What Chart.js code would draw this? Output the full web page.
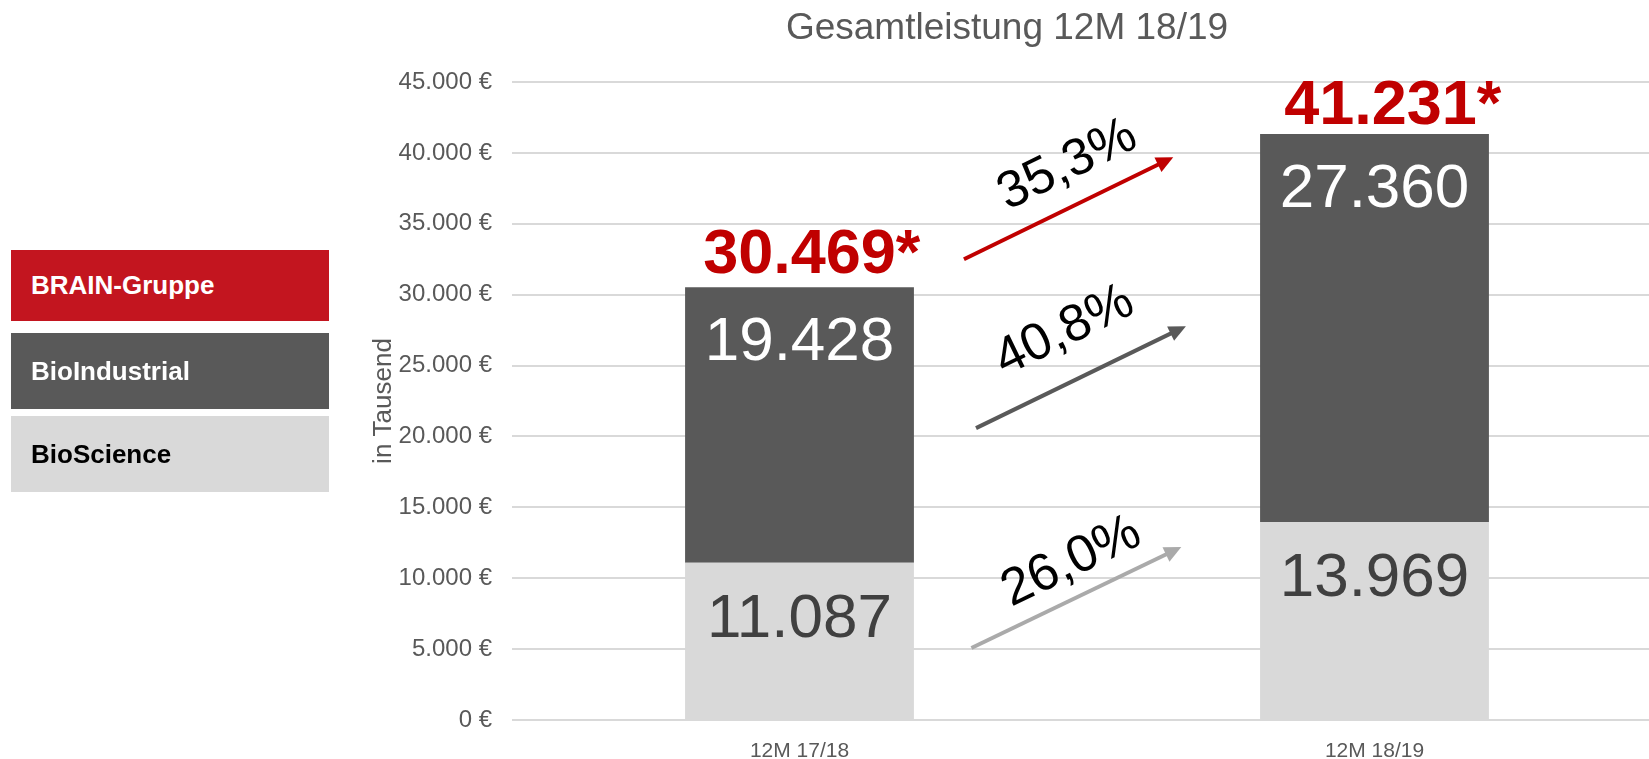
<!DOCTYPE html>
<html><head><meta charset="utf-8">
<script src="https://cdn.jsdelivr.net/npm/chart.js@4.4.1/dist/chart.umd.min.js"></script>
<style>
html,body{margin:0;padding:0;background:#fff;overflow:hidden;width:1649px;height:759px;}
#wrap{position:absolute;left:0;top:0;width:1662px;height:759px;}
.lg{position:absolute;left:11px;width:318px;font:bold 26px Arial,"Liberation Sans",sans-serif;display:flex;align-items:center;padding-left:20px;box-sizing:border-box;}
</style></head><body>
<div id="wrap"><canvas id="c" width="1662" height="759"></canvas></div>
<div id="legend"></div>
<script>
// ---- data ----
const categories = ['12M 17/18', '12M 18/19'];
const bioScience = [11087, 13969];
const bioIndustrial = [19428, 27360];
const groupTotals = [30469, 41231];
const growthLabels = ['35,3%', '40,8%', '26,0%']; // BRAIN-Gruppe, BioIndustrial, BioScience
const yTicks = [0, 5000, 10000, 15000, 20000, 25000, 30000, 35000, 40000, 45000];
const seriesNames = ['BRAIN-Gruppe', 'BioIndustrial', 'BioScience'];
const chartTitle = 'Gesamtleistung 12M 18/19';
const yAxisTitle = 'in Tausend';

// ---- styles ----
const FONT = 'Arial, "Liberation Sans", sans-serif';
const GRAY = '#595959';
const legendStyles = [
  {top: 250, height: 71, bg: '#c3151f', color: '#fff'},
  {top: 333, height: 76, bg: '#595959', color: '#fff'},
  {top: 416, height: 76, bg: '#d9d9d9', color: '#000'}
];
const legendEl = document.getElementById('legend');
seriesNames.forEach((n, i) => {
  const d = document.createElement('div');
  const s = legendStyles[i];
  d.className = 'lg';
  d.style.top = s.top + 'px'; d.style.height = s.height + 'px';
  d.style.background = s.bg; d.style.color = s.color;
  d.textContent = n;
  legendEl.appendChild(d);
});

function de(n) { return String(n).replace(/\B(?=(\d{3})+(?!\d))/g, '.'); }

// arrows in data coordinates: x = category index (fractional), y = value
const arrows = [
  {from: [0.286, 32500], to: [0.650, 39690], color: '#c00000', label: growthLabels[0], at: [0.466, 39128], w: 4},
  {from: [0.307, 20587], to: [0.672, 27778], color: '#595959', label: growthLabels[1], at: [0.461, 27425], w: 4},
  {from: [0.299, 5076],  to: [0.664, 12197], color: '#aaaaaa', label: growthLabels[2], at: [0.473, 11139], w: 4}
];

const overlay = {
  id: 'overlay',
  afterDatasetsDraw(chart) {
    const ctx = chart.ctx;
    const xs = chart.scales.x, ys = chart.scales.y;
    ctx.save();
    // title
    ctx.fillStyle = GRAY;
    ctx.font = '37px ' + FONT;
    ctx.textAlign = 'center';
    ctx.textBaseline = 'alphabetic';
    ctx.fillText(chartTitle, 1007, 39);

    // segment labels
    const labelColors = ['#404040', '#ffffff'];
    chart.data.datasets.forEach((ds, di) => {
      const meta = chart.getDatasetMeta(di);
      meta.data.forEach((el, i) => {
        ctx.fillStyle = labelColors[di];
        ctx.font = '62px ' + FONT;
        ctx.textAlign = 'center';
        ctx.textBaseline = 'alphabetic';
        ctx.fillText(de(ds.data[i]), el.x, el.y + (di === 0 ? 74 : 73));
      });
    });
    // totals
    const topMeta = chart.getDatasetMeta(chart.data.datasets.length - 1);
    topMeta.data.forEach((el, i) => {
      ctx.fillStyle = '#c00000';
      ctx.font = 'bold 63px ' + FONT;
      ctx.textBaseline = 'alphabetic';
      ctx.textAlign = 'left';
      const t = de(groupTotals[i]);
      const w = ctx.measureText(t).width;
      ctx.fillText(t + '*', el.x - w / 2 + (i === 1 ? 6 : 0), el.y - (i === 1 ? 10 : 14));
    });
    // arrows
    arrows.forEach(a => {
      const x1 = xs.getPixelForValue(a.from[0]), y1 = ys.getPixelForValue(a.from[1]);
      const x2 = xs.getPixelForValue(a.to[0]), y2 = ys.getPixelForValue(a.to[1]);
      const ang = Math.atan2(y2 - y1, x2 - x1);
      const hl = 17, hw = 8;
      const bx = x2 - hl * Math.cos(ang), by = y2 - hl * Math.sin(ang);
      ctx.strokeStyle = a.color; ctx.fillStyle = a.color;
      ctx.lineWidth = a.w; ctx.lineCap = 'butt';
      ctx.beginPath(); ctx.moveTo(x1, y1); ctx.lineTo(bx + Math.cos(ang), by + Math.sin(ang)); ctx.stroke();
      ctx.beginPath();
      ctx.moveTo(x2, y2);
      ctx.lineTo(bx + hw * Math.sin(ang), by - hw * Math.cos(ang));
      ctx.lineTo(bx - hw * Math.sin(ang), by + hw * Math.cos(ang));
      ctx.closePath(); ctx.fill();
      // label
      const tx = xs.getPixelForValue(a.at[0]), ty = ys.getPixelForValue(a.at[1]);
      ctx.save();
      ctx.translate(tx, ty);
      ctx.rotate(ang);
      ctx.fillStyle = '#000';
      ctx.font = '52px ' + FONT;
      ctx.textAlign = 'center';
      ctx.textBaseline = 'middle';
      ctx.fillText(a.label, 0, 0);
      ctx.restore();
    });
    ctx.restore();
  }
};

new Chart(document.getElementById('c'), {
  type: 'bar',
  data: {
    labels: categories,
    datasets: [
      {label: seriesNames[2], data: bioScience, backgroundColor: '#d9d9d9', stack: 's'},
      {label: seriesNames[1], data: bioIndustrial, backgroundColor: '#595959', stack: 's'}
    ]
  },
  options: {
    responsive: false,
    animation: false,
    devicePixelRatio: 1,
    layout: {padding: {top: 82, left: 0, right: 0, bottom: 0}},
    datasets: {bar: {categoryPercentage: 0.398, barPercentage: 1}},
    plugins: {legend: {display: false}, tooltip: {enabled: false}, title: {display: false}},
    scales: {
      x: {
        stacked: true,
        grid: {display: false, drawTicks: false},
        border: {display: false},
        ticks: {color: GRAY, font: {family: FONT, size: 21}, padding: 19},
        afterFit(s) { s.height = 39; }
      },
      y: {
        stacked: true, min: 0, max: 45000,
        afterBuildTicks(s) { s.ticks = yTicks.map(v => ({value: v})); },
        grid: {color: '#d9d9d9', lineWidth: 2, drawTicks: false},
        border: {display: false},
        ticks: {color: GRAY, font: {family: FONT, size: 24}, padding: 20, callback: v => de(v) + ' €'},
        title: {display: true, text: yAxisTitle, color: GRAY, font: {family: FONT, size: 26}, padding: {top: 368, bottom: 0}},
        afterFit(s) { s.width = 512; }
      }
    }
  },
  plugins: [overlay]
});
</script>
</body></html>
